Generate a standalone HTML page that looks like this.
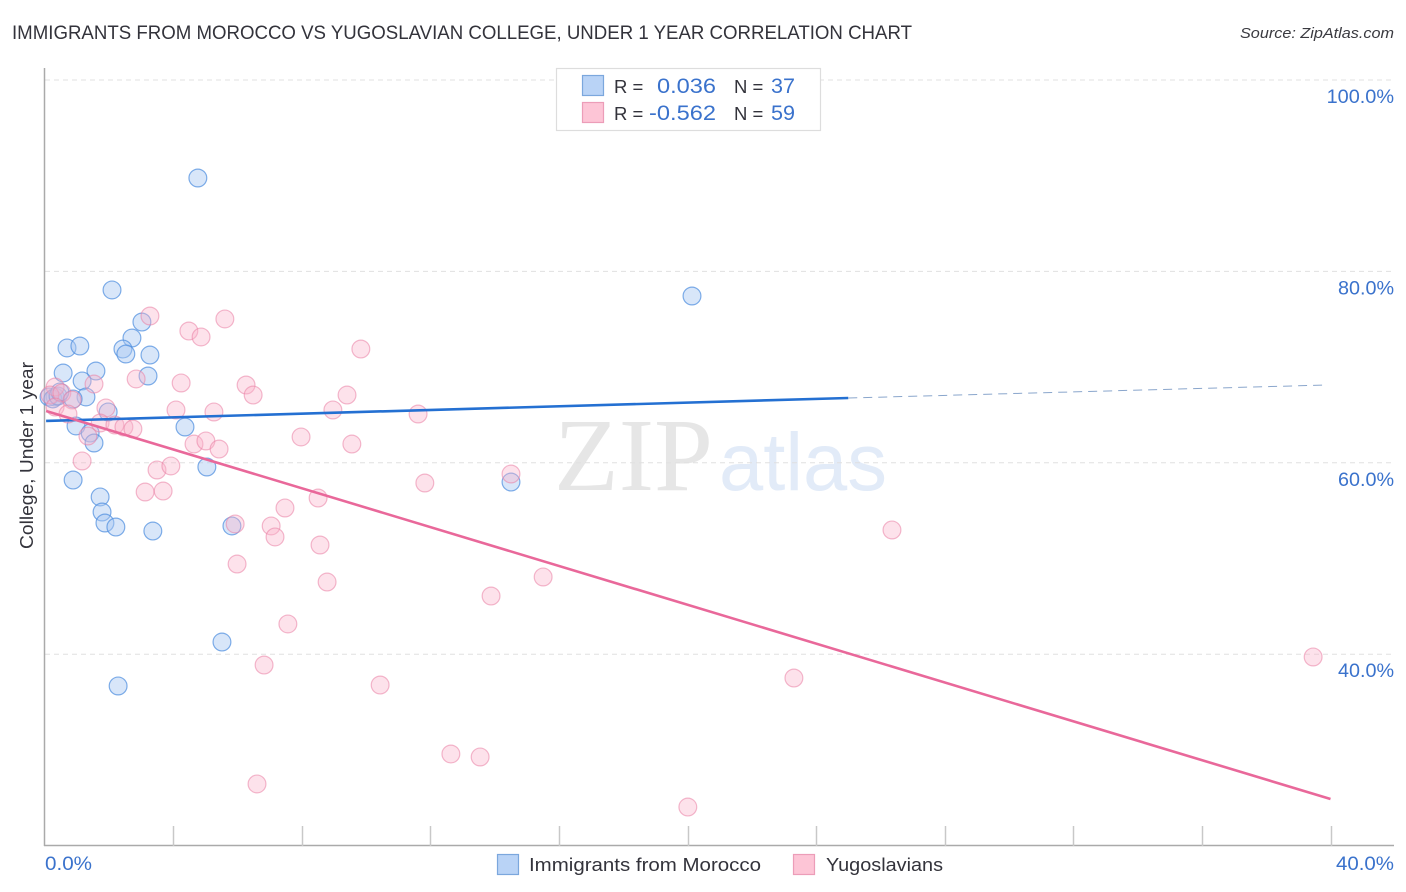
<!DOCTYPE html>
<html lang="en">
<head>
<meta charset="utf-8">
<title>Immigrants from Morocco vs Yugoslavian College, Under 1 Year Correlation Chart</title>
<style>
html,body{margin:0;padding:0;background:#fff;}
svg{display:block;font-family:"Liberation Sans",sans-serif;}
</style>
</head>
<body>
<svg id="chart" xmlns="http://www.w3.org/2000/svg" width="1406" height="892" viewBox="0 0 1406 892">
  <rect width="1406" height="892" fill="#ffffff"/>
  <text x="12" y="39" font-size="19" fill="#33333b" textLength="900" lengthAdjust="spacingAndGlyphs">IMMIGRANTS FROM MOROCCO VS YUGOSLAVIAN COLLEGE, UNDER 1 YEAR CORRELATION CHART</text>
  <text x="1394" y="38" font-size="15" font-style="italic" fill="#3a3a40" text-anchor="end" textLength="154" lengthAdjust="spacingAndGlyphs">Source: ZipAtlas.com</text>

  <g>
    <text x="554" y="490" font-family="'Liberation Serif',serif" font-size="104" fill="#e6e6e6" textLength="159" lengthAdjust="spacingAndGlyphs">ZIP</text>
    <text x="719" y="490" font-size="82" fill="#e2ebf8" textLength="168" lengthAdjust="spacingAndGlyphs">atlas</text>
  </g>

  <g id="grid"></g>
  <g id="axes"></g>
  <g id="points-blue"></g>
  <g id="points-pink"></g>
  <g id="lines"></g>

  <text transform="translate(33,549) rotate(-90)" font-size="18" fill="#33333b" textLength="187" lengthAdjust="spacingAndGlyphs">College, Under 1 year</text>

  <g>
    <rect x="556.5" y="68.5" width="264" height="62" fill="#ffffff" stroke="#dddddd" stroke-width="1.2"/>
    <rect x="582.5" y="75.5" width="21" height="20" fill="#b9d3f6" stroke="#7ba7dd" stroke-width="1.2"/>
    <rect x="582.5" y="102.5" width="21" height="20" fill="#fdc5d6" stroke="#ec9db8" stroke-width="1.2"/>
    <text x="614" y="93" font-size="18.5" fill="#33333b">R =</text>
    <text x="716" y="93" font-size="21" fill="#3a72cc" text-anchor="end" textLength="59" lengthAdjust="spacingAndGlyphs">0.036</text>
    <text x="734" y="93" font-size="18.5" fill="#33333b">N =</text>
    <text x="771" y="93" font-size="21" fill="#3a72cc" textLength="24" lengthAdjust="spacingAndGlyphs">37</text>
    <text x="614" y="120" font-size="18.5" fill="#33333b">R =</text>
    <text x="716" y="120" font-size="21" fill="#3a72cc" text-anchor="end" textLength="67" lengthAdjust="spacingAndGlyphs">-0.562</text>
    <text x="734" y="120" font-size="18.5" fill="#33333b">N =</text>
    <text x="771" y="120" font-size="21" fill="#3a72cc" textLength="24" lengthAdjust="spacingAndGlyphs">59</text>
  </g>

  <g>
    <rect x="497.5" y="854.5" width="21" height="20" fill="#b9d3f6" stroke="#7ba7dd" stroke-width="1.2"/>
    <text x="529" y="871" font-size="18.5" fill="#33333b" textLength="232" lengthAdjust="spacingAndGlyphs">Immigrants from Morocco</text>
    <rect x="793.5" y="854.5" width="21" height="20" fill="#fdc5d6" stroke="#ec9db8" stroke-width="1.2"/>
    <text x="826" y="871" font-size="18.5" fill="#33333b" textLength="117" lengthAdjust="spacingAndGlyphs">Yugoslavians</text>
  </g>
</svg>
<script>
// Data: x = percent of immigrants, y = college, under 1 year (%)
var moroccoX = [4.77,2.10,20.14,3.03,2.72,0.70,1.10,2.44,2.53,3.28,0.58,1.60,3.22,1.17,1.29,0.33,0.14,0.26,0.42,0.89,1.98,0.98,1.42,1.54,4.37,5.05,0.89,14.51,1.73,1.79,1.88,2.22,3.37,5.83,5.52,2.29,0.48];
var moroccoY = [89.76,78.06,77.43,74.71,73.04,72.00,72.20,71.89,71.37,71.26,69.38,69.59,69.07,68.55,66.88,66.88,66.88,66.67,66.98,66.67,65.31,63.85,63.11,62.07,63.74,59.56,58.20,57.99,56.43,54.86,53.71,53.29,52.87,53.40,41.27,36.68,67.40];
var yugoslavX = [3.28,5.61,4.49,4.87,9.84,1.54,2.85,4.25,6.27,6.49,9.41,8.97,11.62,4.09,5.27,1.91,0.33,0.17,0.54,0.86,0.33,0.73,1.73,2.19,2.47,2.75,1.35,1.17,3.50,3.93,4.65,5.02,5.43,7.98,9.56,3.13,3.69,14.51,11.83,8.51,7.48,7.05,7.17,5.93,8.57,5.99,8.79,13.89,15.51,7.57,6.83,10.44,23.31,26.36,39.46,12.64,13.55,6.61,20.01];
var yugoslavY = [75.34,75.03,73.77,73.15,71.89,68.23,68.76,68.34,68.13,67.08,67.08,65.52,65.10,65.52,65.31,65.73,67.92,67.08,67.29,66.56,65.83,65.10,64.16,63.95,63.74,63.53,62.80,60.19,59.25,59.67,61.96,62.28,61.44,62.70,61.96,56.95,57.05,58.83,57.89,56.32,55.28,53.40,52.25,53.61,51.41,49.42,47.54,46.08,48.07,43.16,38.87,36.78,37.51,52.98,39.71,29.57,29.26,26.44,24.03];
var moroccoTrendX = [0.05,25];
var moroccoTrendY = [64.37,66.77];
var moroccoForecastX = [25,39.9];
var moroccoForecastY = [66.77,68.13];
var yugoslavTrendX = [0.05,40];
var yugoslavTrendY = [65.41,24.87];
var yTicks = [100,80,60,40];
var yTickLabels = ["100.0%","80.0%","60.0%","40.0%"];
var xTicks = [4,8,12,16,20,24,28,32,36,40];
var xEndLabels = ["0.0%","40.0%"];

function xScale(v){ return 44.5 + v * 32.15; }
function yScale(v){ return 80 + (100 - v) * 9.57; }

var NS = "http://www.w3.org/2000/svg";
function mk(tag, parent, attrs){
  var el = document.createElementNS(NS, tag);
  for (var k in attrs) el.setAttribute(k, attrs[k]);
  document.getElementById(parent).appendChild(el);
  return el;
}
// Rendered width of a percent label: the reference face runs wider than Liberation Sans.
function labelWidth(s){ return s.length * 11.4 - 1; }

yTicks.forEach(function(t, i){
  var y = yScale(t);
  var g = mk("line", "grid", {x1:45, x2:1394, y1:y, y2:y, stroke:"#e0e0e0", "stroke-width":1, "stroke-dasharray":"5 4"});
  
  
  var lab = mk("text", "axes", {x:1394, y:y + 23, "font-size":19, fill:"#3a72cc", "text-anchor":"end", textLength:labelWidth(yTickLabels[i]), lengthAdjust:"spacingAndGlyphs"});
  lab.textContent = yTickLabels[i];
  
  
});

var yAxis = mk("line", "axes", {x1:44.5, x2:44.5, y1:68, y2:846, stroke:"#aaaaaa", "stroke-width":1.5});


var xAxis = mk("line", "axes", {x1:44, x2:1394, y1:845.5, y2:845.5, stroke:"#aaaaaa", "stroke-width":1.5});



xTicks.forEach(function(t){
  var x = Math.round(xScale(t)) + 0.5;
  var tick = mk("line", "axes", {x1:x, x2:x, y1:826, y2:846, stroke:"#c8c8c8", "stroke-width":1.5});
  
  
});

var xStart = mk("text", "axes", {x:45, y:870, "font-size":19, fill:"#3a72cc", textLength:47, lengthAdjust:"spacingAndGlyphs"});
xStart.textContent = xEndLabels[0];


var xEnd = mk("text", "axes", {x:1394, y:870, "font-size":19, fill:"#3a72cc", "text-anchor":"end", textLength:58, lengthAdjust:"spacingAndGlyphs"});
xEnd.textContent = xEndLabels[1];



moroccoX.forEach(function(v, i){
  var c = mk("circle", "points-blue", {cx:xScale(v), cy:yScale(moroccoY[i]), r:8.9, fill:"#a9c8f2", "fill-opacity":0.45, stroke:"#4f8fdf", "stroke-opacity":0.72, "stroke-width":1.2});
  
  
});
yugoslavX.forEach(function(v, i){
  var c = mk("circle", "points-pink", {cx:xScale(v), cy:yScale(yugoslavY[i]), r:8.9, fill:"#f9b4ca", "fill-opacity":0.38, stroke:"#ea7fa4", "stroke-opacity":0.55, "stroke-width":1.2});
  
  
});

var l1 = mk("line", "lines", {x1:xScale(moroccoTrendX[0]), x2:xScale(moroccoTrendX[1]), y1:yScale(moroccoTrendY[0]), y2:yScale(moroccoTrendY[1]), stroke:"#2470d2", "stroke-width":2.6});


var l2 = mk("line", "lines", {x1:xScale(moroccoForecastX[0]), x2:xScale(moroccoForecastX[1]), y1:yScale(moroccoForecastY[0]), y2:yScale(moroccoForecastY[1]), stroke:"#8aa6cc", "stroke-width":1, "stroke-dasharray":"9 6"});


var l3 = mk("line", "lines", {x1:xScale(yugoslavTrendX[0]), x2:xScale(yugoslavTrendX[1]), y1:yScale(yugoslavTrendY[0]), y2:yScale(yugoslavTrendY[1]), stroke:"#e9689a", "stroke-width":2.6});


</script>
</body>
</html>
